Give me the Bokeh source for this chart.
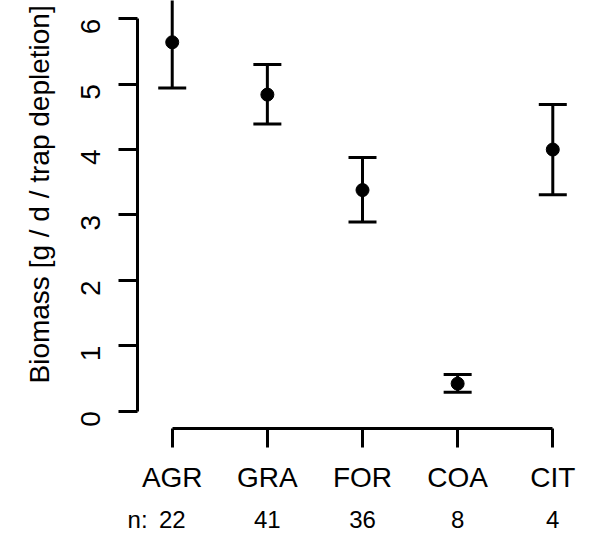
import math
from bokeh.plotting import figure
from bokeh.models import (Range1d, FixedTicker, Whisker, TeeHead, ColumnDataSource,
                          LinearAxis, Title)
from bokeh.embed import file_html
from bokeh.resources import INLINE

# ---- data ----
categories = ["AGR", "GRA", "FOR", "COA", "CIT"]
n_values = ["22", "41", "36", "8", "4"]
n_prefix = "n:"
means = [5.64, 4.84, 3.38, 0.42, 4.00]
lower = [4.94, 4.39, 2.89, 0.29, 3.31]
upper = [6.34, 5.30, 3.88, 0.56, 4.69]
y_ticks = [0, 1, 2, 3, 4, 5, 6]
y_title = "Biomass [g / d / trap depletion]"

xs = [i + 1 for i in range(len(categories))]
FONT = "Liberation Sans"
X_START = 0.635
N_PREFIX_POS = 0.636  # where the "n:" prefix sits (just inside the left edge)

p = figure(width=601, height=535, output_backend="svg", toolbar_location=None,
           x_range=Range1d(X_START, 5.512), y_range=Range1d(-0.266, 6.279),
           min_border_left=137, min_border_right=0, min_border_top=0,
           min_border_bottom=105)
p.outline_line_color = None
p.xgrid.visible = False
p.ygrid.visible = False
p.background_fill_color = "white"
p.border_fill_color = "white"

for ax in (p.xaxis[0], p.yaxis[0]):
    ax.axis_line_width = 3
    ax.axis_line_color = "black"
    ax.major_tick_line_width = 3
    ax.major_tick_line_color = "black"
    ax.major_tick_out = 19
    ax.major_tick_in = 0
    ax.minor_tick_line_color = None
    ax.major_label_text_font = FONT
    ax.major_label_text_font_size = "28px"
    ax.major_label_text_color = "black"

xa = p.xaxis[0]
xa.bounds = (1, len(categories))
xa.ticker = FixedTicker(ticks=xs)
xa.major_label_overrides = {x: c for x, c in zip(xs, categories)}
xa.major_label_standoff = 14

ya = p.yaxis[0]
ya.bounds = (y_ticks[0], y_ticks[-1])
ya.ticker = FixedTicker(ticks=y_ticks)
ya.major_label_orientation = math.pi / 2
ya.major_label_standoff = 28

# second row below the category labels: sample sizes
n_axis = LinearAxis(ticker=FixedTicker(ticks=[N_PREFIX_POS] + xs),
                    major_label_overrides={**{N_PREFIX_POS: n_prefix},
                                           **{x: n for x, n in zip(xs, n_values)}},
                    axis_line_color=None, major_tick_line_color=None,
                    minor_tick_line_color=None, major_tick_out=0, major_tick_in=0,
                    major_label_standoff=10, major_label_text_font=FONT,
                    major_label_text_font_size="24px", major_label_text_color="black")
p.add_layout(n_axis, "below")

# y-axis title
p.add_layout(Title(text=y_title, align="left", offset=45, text_font=FONT,
                   text_font_size="28px", text_font_style="normal",
                   text_color="black", standoff=28), "left")

src = ColumnDataSource(dict(x=xs, mean=means, lower=lower, upper=upper))
w = Whisker(base="x", lower="lower", upper="upper", source=src,
            line_width=3, line_color="black",
            upper_head=TeeHead(size=28, line_width=3, line_color="black"),
            lower_head=TeeHead(size=28, line_width=3, line_color="black"))
p.add_layout(w)
p.scatter("x", "mean", source=src, size=13, color="black")

open("out.html", "w").write(file_html(p, INLINE))
